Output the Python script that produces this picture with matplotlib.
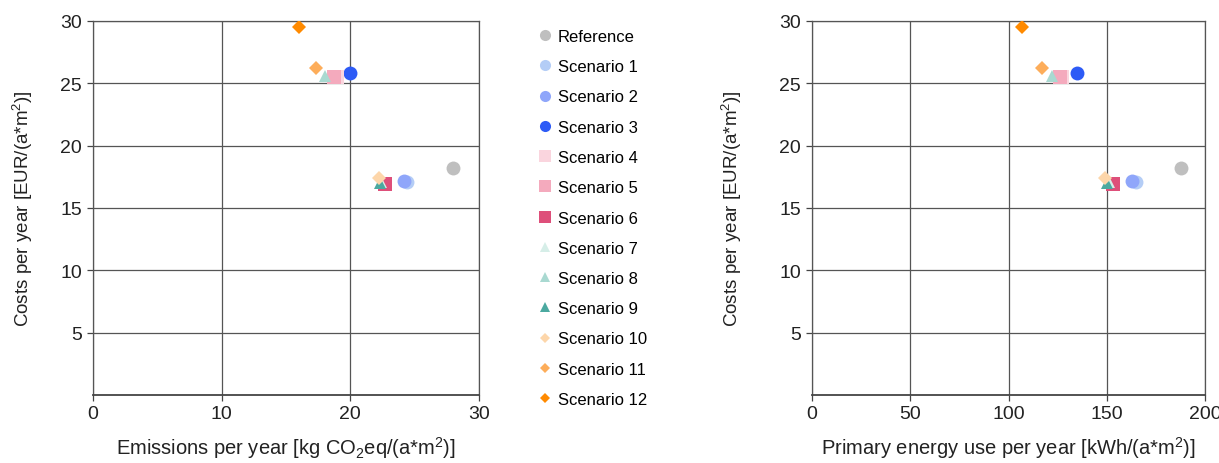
import matplotlib
matplotlib.use("Agg")
import matplotlib.pyplot as plt

plt.rcParams['font.family'] = ['Liberation Sans', 'DejaVu Sans']
plt.rcParams['mathtext.default'] = 'regular'

labels = ["Reference", "Scenario 1", "Scenario 2", "Scenario 3", "Scenario 4",
          "Scenario 5", "Scenario 6", "Scenario 7", "Scenario 8", "Scenario 9",
          "Scenario 10", "Scenario 11", "Scenario 12"]
emissions = [28.0, 24.4, 24.2, 20.0, 19.0, 18.7, 22.7, 22.4, 18.0, 22.3, 22.2, 17.3, 16.0]
primary_energy = [188, 165, 163, 135, 127, 126, 153, 151, 122, 150, 149, 117, 107]
costs = [18.2, 17.1, 17.2, 25.8, 25.5, 25.5, 16.9, 17.1, 25.6, 17.0, 17.4, 26.2, 29.5]

colors = ["#BFBFBF", "#B4CDF6", "#8FA6FA", "#2D5BF6", "#FAD5DE", "#F4AABD",
          "#DE4F7A", "#D6EEE8", "#A9D9D1", "#4BA9A0", "#FDD6AA", "#FDAD5A", "#FF8A00"]
markers = ["o", "o", "o", "o", "s", "s", "s", "^", "^", "^", "D", "D", "D"]
msizes = [10, 10, 10, 10, 10, 10, 10, 9, 9, 9, 7, 7, 7]

fig = plt.figure(figsize=(12.19, 4.64), dpi=100)
ax1 = fig.add_axes([93/1219, 1-396/464, (479-93)/1219, (396-22)/464])
ax2 = fig.add_axes([812/1219, 1-396/464, (1205-812)/1219, (396-22)/464])

def setup(ax, xs, xmax, xstep, xlabel, ypad):
    for i in range(len(labels)):
        ax.plot(xs[i], costs[i], linestyle='none', marker=markers[i],
                markersize=msizes[i], color=colors[i], markeredgewidth=0,
                label=labels[i], zorder=3)
    ax.set_xlim(0, xmax)
    ax.set_ylim(0, 30)
    ax.set_xticks(range(0, xmax + 1, xstep))
    ax.set_yticks(range(5, 31, 5))
    ax.grid(True, color="#555555", linewidth=0.9)
    for s in ax.spines.values():
        s.set_color("#555555")
        s.set_linewidth(0.9)
    ax.spines['bottom'].set_color("#444444")
    ax.spines['bottom'].set_linewidth(1.3)
    ax.tick_params(axis='both', labelsize=14, colors="#444444", labelcolor="#222222",
                   length=4, width=0.9, direction='out', pad=4)
    ax.tick_params(axis='x', pad=3)
    ax.set_xlabel(xlabel, fontsize=14.5, color="#222222", labelpad=9)
    ax.set_ylabel("Costs per year [EUR/(a*m$^2$)]", fontsize=13.5, color="#222222",
                  labelpad=ypad)

setup(ax1, emissions, 30, 10, "Emissions per year [kg CO$_2$eq/(a*m$^2$)]", 18)
setup(ax2, primary_energy, 200, 50, "Primary energy use per year [kWh/(a*m$^2$)]", 25)

leg_handles = []
for i in range(len(labels)):
    h = plt.Line2D([], [], linestyle='none', marker=markers[i], color=colors[i],
                   markersize=msizes[i] * 0.8, markeredgewidth=0)
    leg_handles.append(h)
fig.legend(leg_handles, labels, loc='upper left', bbox_to_anchor=(533/1219, 1-25/464),
           frameon=False, fontsize=12, handlelength=0.8, handletextpad=0.4,
           labelspacing=0.915, borderaxespad=0, borderpad=0.3)

fig.savefig("out.png", dpi=100)
